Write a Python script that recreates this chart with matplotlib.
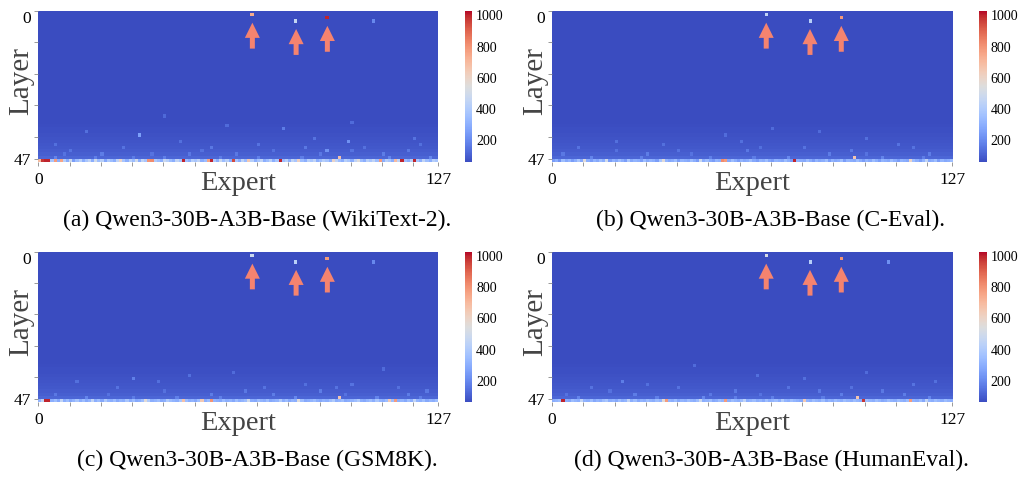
import numpy as np
import matplotlib
matplotlib.use("Agg")
import matplotlib.pyplot as plt
from matplotlib.patches import FancyArrow

plt.rcParams['font.family'] = ['Liberation Serif', 'DejaVu Serif']

N_LAYERS = 48
N_EXPERTS = 128

captions = [
    "(a) Qwen3-30B-A3B-Base (WikiText-2).",
    "(b) Qwen3-30B-A3B-Base (C-Eval).",
    "(c) Qwen3-30B-A3B-Base (GSM8K).",
    "(d) Qwen3-30B-A3B-Base (HumanEval).",
]

# typical background level per layer (0..47); last row replaced by its own list
row_base = [62] * 36 + [66, 68, 70, 74, 78, 82, 86, 90, 96, 104, 118, 62]

last_row_a = [
    700, 980, 1000, 1000, 380, 780, 300, 760, 420, 300, 480, 250, 350, 420, 300, 380,
    450, 300, 500, 350, 420, 280, 400, 350, 300, 450, 600, 380, 300, 420, 350, 500,
    300, 450, 380, 800, 820, 400, 350, 300, 480, 420, 350, 300, 450, 380, 1000, 350,
    300, 420, 380, 450, 300, 350, 760, 1000, 400, 300, 480, 350, 420, 300, 950, 380,
    300, 450, 350, 650, 420, 300, 380, 450, 300, 350, 420, 300, 380, 1000, 350, 420,
    300, 450, 380, 620, 350, 300, 420, 380, 450, 300, 350, 420, 380, 300, 600, 450,
    350, 300, 420, 380, 300, 450, 550, 350, 300, 420, 380, 450, 350, 780, 300, 420,
    380, 300, 700, 450, 1000, 350, 300, 420, 1000, 380, 300, 450, 350, 300, 420, 380,
]
last_row_b = [
    250, 300, 220, 350, 280, 320, 250, 300, 380, 280, 560, 300, 250, 320, 280, 350,
    300, 500, 250, 320, 280, 350, 300, 250, 380, 280, 320, 300, 250, 350, 280, 320,
    300, 250, 380, 560, 320, 280, 300, 350, 250, 320, 300, 280, 350, 300, 250, 480,
    300, 350, 280, 250, 320, 300, 820, 780, 280, 350, 300, 250, 320, 280, 300, 350,
    280, 250, 320, 300, 350, 280, 250, 320, 300, 280, 350, 300, 250, 1000, 320, 300,
    280, 350, 300, 250, 320, 280, 300, 350, 250, 320, 280, 300, 350, 250, 320, 300,
    280, 350, 300, 250, 320, 280, 350, 300, 250, 320, 300, 280, 350, 300, 250, 320,
    300, 280, 600, 350, 300, 250, 320, 450, 280, 300, 350, 250, 320, 280, 300, 350,
]
last_row_c = [
    320, 450, 1000, 1000, 300, 350, 280, 450, 300, 350, 280, 320, 380, 300, 350, 280,
    320, 450, 300, 350, 280, 400, 320, 300, 350, 280, 320, 300, 380, 300, 350, 280,
    300, 350, 560, 400, 300, 320, 350, 280, 300, 400, 350, 320, 300, 380, 680, 350,
    300, 320, 280, 350, 650, 300, 350, 800, 320, 300, 280, 350, 300, 320, 280, 350,
    300, 320, 350, 500, 300, 280, 350, 320, 300, 350, 280, 300, 320, 400, 300, 350,
    280, 320, 300, 550, 350, 280, 300, 320, 350, 300, 280, 320, 300, 350, 400, 300,
    320, 350, 280, 300, 320, 350, 400, 300, 280, 320, 350, 300, 380, 320, 300, 350,
    650, 350, 780, 300, 320, 280, 350, 300, 450, 320, 300, 350, 280, 320, 300, 350,
]
last_row_d = [
    300, 320, 350, 1000, 300, 280, 350, 320, 300, 450, 320, 300, 350, 280, 320, 300,
    350, 380, 300, 320, 280, 350, 300, 320, 450, 300, 350, 280, 320, 300, 350, 320,
    300, 350, 320, 560, 780, 320, 300, 350, 280, 320, 300, 350, 320, 300, 350, 480,
    300, 320, 350, 280, 300, 350, 320, 780, 300, 350, 320, 300, 350, 450, 300, 320,
    350, 300, 320, 280, 350, 300, 320, 350, 300, 400, 320, 300, 350, 320, 300, 280,
    650, 320, 300, 350, 320, 300, 350, 280, 320, 300, 350, 320, 300, 350, 320, 300,
    350, 320, 300, 980, 350, 320, 300, 350, 320, 280, 300, 350, 320, 300, 350, 320,
    300, 350, 780, 320, 300, 350, 280, 450, 320, 300, 350, 320, 300, 350, 320, 300,
]

# (layer, expert, value) highlighted cells near the top
hot_a = [(1, 68, 740), (3, 82, 460), (2, 92, 1000), (3, 107, 200)]
hot_b = [(1, 68, 450), (3, 82, 420), (2, 92, 790)]
hot_c = [(1, 68, 480), (3, 82, 430), (2, 92, 780), (3, 107, 200)]
hot_d = [(1, 68, 520), (3, 82, 420), (2, 92, 800), (3, 107, 220)]

# (layer, expert, value) scattered lighter cells in the lower layers
speck_a = [(39, 32, 260), (41, 99, 220), (44, 92, 220), (37, 78, 170), (46, 96, 680),
           (45, 20, 170), (46, 5, 190), (46, 40, 180), (44, 10, 150), (43, 55, 160),
           (42, 70, 150), (45, 110, 170), (46, 125, 200), (40, 120, 150), (38, 15, 140),
           (36, 60, 130), (43, 85, 160), (45, 48, 160), (46, 70, 180), (44, 100, 150),
           (41, 45, 140), (42, 5, 140), (40, 88, 150), (46, 18, 180), (45, 63, 160),
           (46, 112, 190), (43, 27, 150), (44, 118, 160), (35, 100, 130), (33, 40, 125),
           (45, 36, 150), (46, 58, 170), (44, 75, 145), (45, 90, 160), (46, 84, 175),
           (43, 104, 145), (42, 122, 140), (46, 30, 170), (45, 8, 150), (44, 52, 145)]
speck_b = [(46, 96, 660), (45, 30, 170), (44, 62, 160), (46, 12, 190), (43, 80, 150),
           (42, 110, 150), (46, 50, 180), (45, 88, 170), (41, 20, 140), (44, 40, 150),
           (46, 75, 200), (40, 100, 140), (45, 120, 170), (39, 55, 135), (43, 8, 150),
           (46, 105, 190), (42, 35, 140), (44, 95, 160), (37, 70, 130), (45, 3, 160),
           (46, 28, 180), (43, 115, 150), (38, 85, 130), (41, 60, 140), (46, 64, 170),
           (45, 44, 150), (44, 20, 145), (46, 118, 175), (45, 100, 150), (43, 66, 140)]
speck_c = [(46, 96, 660), (40, 30, 180), (44, 90, 170), (46, 15, 190), (45, 55, 170),
           (43, 72, 150), (46, 44, 180), (42, 100, 150), (45, 118, 170), (41, 12, 140),
           (44, 66, 160), (46, 82, 200), (39, 48, 140), (43, 25, 150), (46, 108, 190),
           (45, 5, 160), (42, 85, 140), (44, 124, 160), (38, 62, 130), (46, 58, 180),
           (43, 95, 150), (41, 38, 140), (37, 110, 130), (45, 75, 170), (46, 30, 170),
           (45, 98, 150), (44, 40, 145), (46, 122, 175), (43, 115, 145), (45, 22, 150)]
speck_d = [(46, 97, 660), (41, 22, 170), (44, 58, 160), (46, 8, 190), (45, 92, 170),
           (43, 40, 150), (46, 70, 180), (42, 115, 150), (45, 26, 170), (40, 80, 140),
           (44, 105, 160), (46, 48, 200), (39, 65, 140), (43, 12, 150), (46, 120, 190),
           (45, 50, 160), (42, 30, 140), (44, 85, 160), (38, 100, 130), (46, 33, 180),
           (43, 75, 150), (41, 122, 140), (36, 45, 130), (45, 112, 170), (46, 86, 170),
           (45, 66, 150), (44, 18, 145), (46, 58, 175), (43, 95, 145), (45, 4, 150)]

last_rows = [last_row_a, last_row_b, last_row_c, last_row_d]
hots = [hot_a, hot_b, hot_c, hot_d]
specks = [speck_a, speck_b, speck_c, speck_d]

# arrows point at the three highlighted experts (expert, layer of the marked cell)
arrow_targets = [(68, 1), (82, 3), (92, 2)]

VMIN, VMAX = 60, 1030
W, H = 1018, 478
fig = plt.figure(figsize=(W / 100, H / 100), dpi=100)

panel_px = [  # left, top, right, bottom of the heatmap, in pixels
    (38.3, 10.7, 438.3, 162.3),
    (552.0, 10.7, 952.3, 162.3),
    (38.3, 251.7, 438.3, 402.3),
    (552.0, 251.7, 952.3, 402.3),
]
cbar_x = [464.5, 979.0, 464.5, 979.0]
caption_xy = [(257, 220), (771, 220), (257, 460.5), (771, 460.5)]

arrow_color = '#f5836f'
label_color = '#444444'

for i in range(4):
    M = np.repeat(np.array(row_base, dtype=float)[:, None], N_EXPERTS, axis=1)
    M[N_LAYERS - 1, :] = last_rows[i]
    for (l, e, v) in hots[i] + specks[i]:
        M[l, e] = v

    l, t, r, b = panel_px[i]
    ax = fig.add_axes([l / W, 1 - b / H, (r - l) / W, (b - t) / H])
    im = ax.imshow(M, cmap='coolwarm', vmin=VMIN, vmax=VMAX, aspect='auto',
                   interpolation='nearest', extent=(0, N_EXPERTS, N_LAYERS, 0))
    for s in ax.spines.values():
        s.set_visible(False)

    ax.set_yticks([0, 10, 20, 30, 40, 47])
    ax.set_yticklabels(['0', '', '', '', '', '47'])
    ax.get_yticklabels()[0].set_va('top')
    ax.set_xticks(list(range(0, 121, 10)) + [128])
    ax.set_xticklabels(['0'] + [''] * 12 + ['127'])
    ax.tick_params(axis='both', length=3, width=0.6, color='#888888',
                   labelsize=12.5, labelcolor='black')
    ax.tick_params(axis='y', pad=2)
    ax.tick_params(axis='x', pad=4)

    # axis titles
    fig.text((l + r) / 2 / W, 1 - (b + 21.5) / H, 'Expert', ha='center', va='center',
             fontsize=20.5, color=label_color)
    fig.text((l - 17) / W, 1 - (t + 70.5) / H, 'Layer', ha='center', va='center',
             rotation=90, fontsize=21, color=label_color)

    for (e, lay) in arrow_targets:
        tip = lay + 2.8
        tail = tip + 8.2
        ax.add_patch(FancyArrow(e + 0.5, tail, 0, tip - tail, width=1.6,
                                head_width=4.8, head_length=4.8,
                                length_includes_head=True, color=arrow_color, lw=0))

    cax = fig.add_axes([cbar_x[i] / W, 1 - b / H, 7.5 / W, (b - t) / H])
    cb = fig.colorbar(im, cax=cax, ticks=[200, 400, 600, 800, 1000])
    cb.outline.set_visible(False)
    cax.tick_params(length=0, pad=3, labelsize=10)

    cx, cy = caption_xy[i]
    fig.text(cx / W, 1 - cy / H, captions[i], ha='center', va='center', fontsize=17)

fig.savefig('out.png', dpi=100)
